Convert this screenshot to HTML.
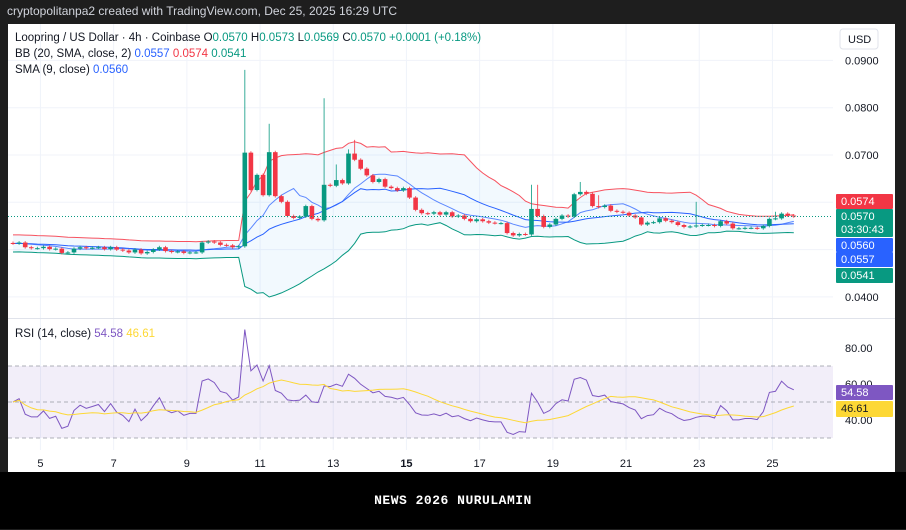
<!DOCTYPE html>
<html><head><meta charset="utf-8"><style>
body{margin:0;width:906px;height:529px;overflow:hidden;background:#1e1e1e;font-family:"Liberation Sans",sans-serif}
#top{position:absolute;left:0;top:0;width:906px;height:23px;background:#1e1e1e;color:#d1d4dc;font-size:12px;line-height:23px;padding-left:7px;box-sizing:border-box}
#chart{position:absolute;left:8px;top:24px;width:887px;height:448px;background:#fff}
#banner{position:absolute;left:0;top:472px;width:906px;height:57px;background:#000;color:#fff;font-family:"Liberation Mono",monospace;font-weight:bold;font-size:13px;text-align:center;line-height:58px;letter-spacing:0.5px}
svg{position:absolute;left:0;top:0}
</style></head><body>
<div id="top">cryptopolitanpa2 created with TradingView.com, Dec 25, 2025 16:29 UTC</div>
<div id="chart"></div>
<svg id="svg" width="906" height="472" font-family="Liberation Sans, sans-serif"></svg>
<div id="banner">NEWS 2026 NURULAMIN</div>
<script>
const closes=[0.0513,0.0515,0.0505,0.0503,0.0503,0.0506,0.0501,0.0502,0.0493,0.0494,0.0502,0.0505,0.0503,0.0504,0.0505,0.0501,0.0505,0.0500,0.0498,0.0494,0.0500,0.0492,0.0495,0.0500,0.0505,0.0497,0.0495,0.0496,0.0493,0.0494,0.0494,0.0515,0.0517,0.0515,0.0510,0.0509,0.0505,0.0507,0.0705,
0.0626,0.0658,0.0615,0.0706,0.0613,0.0601,0.0571,0.0567,0.0570,0.0592,0.0565,0.0562,0.0637,0.0635,0.0647,0.0640,0.0703,0.0690,0.0671,0.0657,0.0643,0.0649,0.0633,0.0630,0.0625,0.0630,0.0610,0.0584,0.0577,0.0576,0.0579,
0.0574,0.0579,0.0570,0.0572,0.0565,0.0560,0.0564,0.0560,0.0557,0.0556,0.0556,0.0535,0.0530,0.0533,0.0532,0.0586,0.0571,0.0548,0.0553,0.0565,0.0572,0.0570,0.0617,0.0622,0.0618,0.0592,0.0590,0.0593,0.0582,0.0580,0.0578,0.0572,0.0568,0.0553,0.0557,0.0558,0.0566,0.0561,0.0558,0.0552,0.0548,0.0549,0.0551,0.0552,0.0552,0.0550,0.0560,0.0555,0.0545,0.0545,0.0546,0.0546,0.0545,0.0550,0.0565,0.0566,0.0576,0.0572,0.0570];
const spikeIdx=[38,42,51,53,55,56,85,86,93,96,112,125];
const spikeHigh=[0.0880,0.0766,0.0820,0.0680,0.0712,0.0732,0.0637,0.0637,0.0643,0.0615,0.0601,0.0580];
const priceTicks=[0.09,0.08,0.07,0.06,0.05,0.04];
const priceTickLabels=["0.0900","0.0800","0.0700","","","0.0400"];
const rsiTicks=[80,60,40];
const rsiTickLabels=["80.00","60.00","40.00"];
const dayLabels=["5","7","9","11","13","15","17","19","21","23","25"];
const dayIdx=[4.5,16.5,28.5,40.5,52.5,64.5,76.5,88.5,100.5,112.5,124.5];

const S=document.getElementById('svg'),NS='http://www.w3.org/2000/svg';
function el(t,a,p){const e=document.createElementNS(NS,t);for(const k in a)e.setAttribute(k,a[k]);(p||S).appendChild(e);return e;}
const X=i=>13+i*6.1;
const PY=p=>155-(p-0.07)*4730;
const RY=r=>402-(r-50)*1.8;

priceTicks.forEach((p,k)=>{const g=el('line',{x1:8,x2:833,y1:PY(p),y2:PY(p),stroke:'#f0f3fa'});

const t=el('text',{x:845,y:PY(p)+4,'font-size':11,fill:'#131722'});t.textContent=priceTickLabels[k];
});
dayIdx.forEach((d,k)=>{const l=el('line',{x1:X(d),x2:X(d),y1:24,y2:450,stroke:'#f0f3fa'});

const t=el('text',{x:X(d),y:467,'font-size':11,fill:'#131722','text-anchor':'middle','font-weight':dayLabels[k]==='15'?'bold':'normal'});t.textContent=dayLabels[k];
});
const sep=el('line',{x1:8,x2:895,y1:318.5,y2:318.5,stroke:'#e0e3eb'});


const n=closes.length;
const pad=i=>closes[Math.max(0,i)];
const basis=[],up=[],lo=[],sma9=[];
for(let i=0;i<n;i++){let s=0;for(let j=i-19;j<=i;j++)s+=pad(j);const m=s/20;let v=0;for(let j=i-19;j<=i;j++)v+=(pad(j)-m)**2;const sd=Math.max(Math.sqrt(v/20),0.0009);
basis.push(m);up.push(m+2*sd);lo.push(m-2*sd);let s9=0;for(let j=i-8;j<=i;j++)s9+=pad(j);sma9.push(s9/9);}
const pts=(a,f)=>a.map((v,i)=>X(i).toFixed(1)+','+f(v).toFixed(1)).join(' ');
const fill=el('polygon',{points:pts(up,PY)+' '+lo.map((v,i)=>X(i).toFixed(1)+','+PY(v).toFixed(1)).reverse().join(' '),fill:'rgba(33,150,243,0.06)'});

[[up,'#f7525f','bb-upper'],[lo,'#089981','bb-lower'],[basis,'#2962ff','bb-basis'],[sma9,'#2962ff','sma-9']].forEach(([a,c,nm])=>{
const l=el('polyline',{points:pts(a,PY),fill:'none',stroke:c,'stroke-width':1,opacity:nm==='sma-9'?0.75:1});
});

for(let i=0;i<n;i++){const o=i?closes[i-1]:closes[0]*1.002,c=closes[i];let h=Math.max(o,c)+0.0003,lw=Math.min(o,c)-0.0003;
const si=spikeIdx.indexOf(i);if(si>=0)h=spikeHigh[si];
const col=c>=o?'#089981':'#f23645';
const w=el('line',{x1:X(i),x2:X(i),y1:PY(h),y2:PY(lw),stroke:col,'stroke-width':1,opacity:0.8});

const yt=PY(Math.max(o,c)),yb=PY(Math.min(o,c));
const b=el('rect',{x:X(i)-2.3,y:yt,width:4.6,height:Math.max(1,yb-yt),fill:col});
}
const cur=el('line',{x1:8,x2:833,y1:PY(closes[n-1]),y2:PY(closes[n-1]),stroke:'#089981','stroke-dasharray':'1,2'});


const rsi=[50];let ag=0.0002,al=0.0002;
for(let i=1;i<n;i++){const d=closes[i]-closes[i-1];const g=Math.max(d,0),l=Math.max(-d,0);
ag=(ag*13+g)/14;al=(al*13+l)/14;
rsi.push(100-100/(1+ag/al));}
const rma=rsi.map((v,i)=>{let s=0,k=0;for(let j=Math.max(0,i-13);j<=i;j++){s+=rsi[j];k++;}return s/k;});
const band=el('rect',{x:8,y:RY(70),width:825,height:RY(30)-RY(70),fill:'rgba(126,87,194,0.1)'});

[70,50,30].forEach(v=>{const l=el('line',{x1:8,x2:833,y1:RY(v),y2:RY(v),stroke:'#9598a1','stroke-dasharray':'4,3','stroke-width':0.8});
});
rsiTicks.forEach((r,k)=>{const t=el('text',{x:845,y:RY(r)+4,'font-size':11,fill:'#131722'});t.textContent=rsiTickLabels[k];
});
const rl=el('polyline',{points:pts(rsi,RY),fill:'none',stroke:'#7e57c2','stroke-width':1});

const ml=el('polyline',{points:pts(rma,RY),fill:'none',stroke:'#fdd835','stroke-width':1});


function tag(y,h,bg,lines,fg,nm){const r=el('rect',{x:836,y:y,width:57,height:h,fill:bg,rx:1});

lines.forEach((s,k)=>{const t=el('text',{x:841,y:y+11+k*13,'font-size':11,fill:fg||'#fff'});t.textContent=s;
});}
tag(194,15,'#f23645',['0.0574'],null,'bb-upper-label');
tag(209,28,'#089981',['0.0570','03:30:43'],null,'last-price-label');
tag(238,14,'#2962ff',['0.0560'],null,'sma-label');
tag(252,15,'#2962ff',['0.0557'],null,'bb-basis-label');
tag(268,15,'#089981',['0.0541'],null,'bb-lower-label');
tag(385,15,'#7e57c2',['54.58'],null,'rsi-value-label');
tag(401,16,'#fdd835',['46.61'],'#131722','rsi-ma-label');
const ub=el('rect',{x:840,y:29,width:38,height:20,fill:'#fff',stroke:'#e0e3eb',rx:3});

const ut=el('text',{x:848,y:43,'font-size':11,fill:'#131722'});ut.textContent='USD';


function leg(y,parts,nm){const t=el('text',{x:15,y:y,'font-size':11.5,fill:'#131722'});

parts.forEach(([s,c])=>{const sp=el('tspan',{fill:c},t);sp.textContent=s;});}
const G='#089981';
leg(41,[['Loopring / US Dollar · 4h · Coinbase  O','#131722'],['0.0570  ',G],['H','#131722'],['0.0573  ',G],['L','#131722'],['0.0569  ',G],['C','#131722'],['0.0570  +0.0001 (+0.18%)',G]],'price-legend');
leg(57,[['BB (20, SMA, close, 2)  ','#131722'],['0.0557  ','#2962ff'],['0.0574  ','#f23645'],['0.0541',G]],'bb-legend');
leg(73,[['SMA (9, close)  ','#131722'],['0.0560','#2962ff']],'sma-legend');
leg(337,[['RSI (14, close)  ','#131722'],['54.58  ','#7e57c2'],['46.61','#fdd835']],'rsi-legend');
</script>
</body></html>
